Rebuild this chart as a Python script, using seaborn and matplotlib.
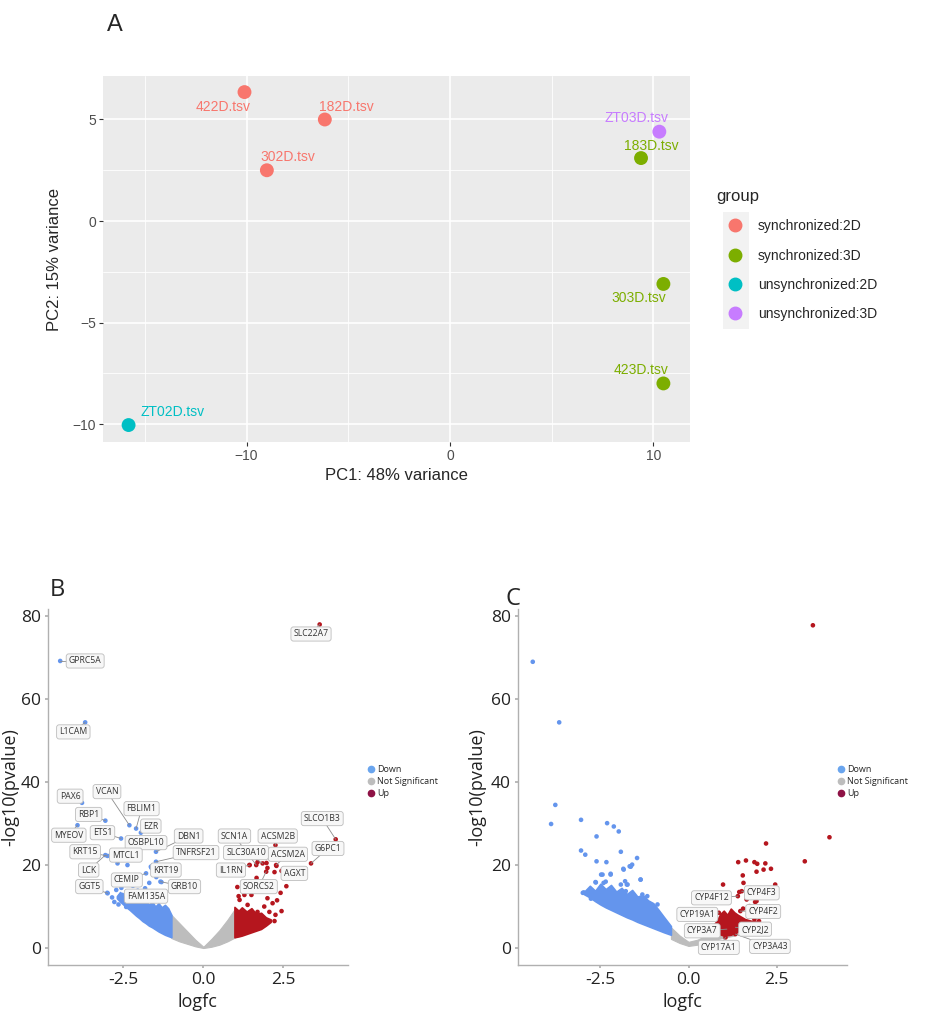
import matplotlib
matplotlib.use("Agg")
import matplotlib.pyplot as plt
import seaborn as sns
import pandas as pd
from matplotlib.lines import Line2D
from matplotlib.patches import Rectangle

# ---------------- panel A: PCA ----------------
pca_samples = ["422D.tsv", "182D.tsv", "302D.tsv", "ZT03D.tsv", "183D.tsv", "303D.tsv", "423D.tsv", "ZT02D.tsv"]
pca_pc1 = [-10.1, -6.15, -9.0, 10.3, 9.4, 10.5, 10.5, -15.8]
pca_pc2 = [6.35, 5.0, 2.5, 4.4, 3.1, -3.1, -8.0, -10.05]
pca_group = ["synchronized:2D", "synchronized:2D", "synchronized:2D", "unsynchronized:3D",
             "synchronized:3D", "synchronized:3D", "synchronized:3D", "unsynchronized:2D"]
group_order = ["synchronized:2D", "synchronized:3D", "unsynchronized:2D", "unsynchronized:3D"]
group_colors = ["#F8766D", "#7CAE00", "#00BFC4", "#C77CFF"]

# ---------------- panel B: volcano, labelled genes ----------------
b_genes = ["SLC22A7", "GPRC5A", "L1CAM", "PAX6", "VCAN", "FBLIM1", "RBP1", "EZR", "MYEOV", "ETS1",
           "DBN1", "OSBPL10", "KRT15", "MTCL1", "TNFRSF21", "LCK", "KRT19", "CEMIP", "GGT5", "GRB10",
           "FAM135A", "SCN1A", "ACSM2B", "SLC30A10", "ACSM2A", "G6PC1", "SLCO1B3", "IL1RN", "AGXT", "SORCS2"]
b_logfc = [3.63, -4.47, -3.69, -3.79, -2.31, -2.1, -3.06, -1.95, -3.93, -2.57,
           -1.48, -2.26, -2.99, -2.68, -1.48, -3.06, -1.64, -1.79, -2.99, -1.34,
           -1.82, 1.65, 2.25, 1.85, 2.27, 3.36, 4.13, 1.44, 2.48, 1.96]
b_pval = [78.0, 69.2, 54.4, 35.0, 29.6, 28.8, 30.7, 27.8, 29.6, 26.4,
          23.2, 22.8, 22.2, 20.4, 20.8, 22.4, 19.6, 18.0, 13.2, 16.0,
          14.4, 20.0, 24.8, 20.4, 20.0, 20.4, 26.2, 20.0, 18.8, 18.4]
b_status = ["Up"] + ["Down"] * 20 + ["Up"] * 9

# other significant genes in B
b_down_x = [-3.0, -2.78, -2.56, -2.53, -1.62, -1.47, -1.31, -1.69, -1.75, -1.9, -2.16, -2.41,
            -2.72, -2.37, -2.78, -1.6, -2.2, -2.45, -1.55, -2.05, -2.6, -1.4, -2.3, -2.65, -2.85]
b_down_y = [13.3, 11.1, 14.5, 12.8, 19.3, 17.1, 15.9, 15.7, 13.5, 12.0, 10.8, 9.9,
            14.0, 20.0, 16.0, 19.8, 15.0, 12.0, 13.0, 13.8, 12.5, 12.0, 17.5, 10.5, 12.2]
b_up_x = [1.44, 1.69, 1.97, 2.0, 2.28, 2.22, 2.44, 1.66, 1.06, 2.59, 2.41, 2.0, 1.5, 1.28,
          1.13, 2.16, 2.44, 1.69, 2.06, 2.25, 2.22, 1.38, 1.22, 1.9, 2.3, 1.1]
b_up_y = [20.0, 20.7, 20.5, 19.3, 19.8, 18.3, 18.6, 16.9, 14.7, 14.9, 13.3, 12.0, 12.8, 12.8,
          11.6, 10.8, 8.9, 8.7, 8.7, 8.0, 6.5, 10.4, 8.7, 10.0, 11.5, 12.5]

# dense clouds in B (logfc, lower and upper -log10 p envelope)
b_grey_x = [-1.0, -0.75, -0.5, -0.25, 0.0, 0.25, 0.5, 0.75, 1.0]
b_grey_lo = [2.4, 1.6, 1.0, 0.4, 0.0, 0.3, 0.8, 1.6, 2.6]
b_grey_hi = [8.0, 6.0, 4.0, 2.0, 0.3, 2.2, 4.3, 6.8, 9.6]
b_blue_x = [-2.7, -2.6, -2.5, -2.4, -2.3, -2.2, -2.1, -2.0, -1.9, -1.8, -1.7, -1.6, -1.5,
            -1.4, -1.3, -1.2, -1.1, -1.0]
b_blue_lo = [12.0, 11.2, 10.5, 9.8, 9.2, 8.5, 7.8, 7.2, 6.5, 6.0, 5.4, 5.0, 4.5, 4.0, 3.6, 3.2, 2.9, 2.6]
b_blue_hi = [12.5, 13.5, 12.2, 13.0, 11.8, 12.6, 11.0, 11.8, 10.6, 11.5, 10.4, 11.2, 10.0,
             10.8, 9.8, 10.4, 9.6, 8.0]
b_red_x = [0.97, 1.1, 1.2, 1.35, 1.5, 1.65, 1.8, 1.95, 2.1]
b_red_lo = [2.6, 2.8, 3.0, 3.4, 3.8, 4.2, 4.6, 5.4, 6.3]
b_red_hi = [9.9, 9.0, 9.8, 8.8, 9.6, 8.2, 8.5, 7.4, 6.9]

# ---------------- panel C: volcano ----------------
c_genes = ["CYP4F12", "CYP4F3", "CYP19A1", "CYP4F2", "CYP3A7", "CYP2J2", "CYP17A1", "CYP3A43"]
c_logfc = [1.4, 1.51, 0.86, 1.47, 1.09, 1.33, 1.05, 1.33]
c_pval = [12.5, 13.7, 8.5, 8.9, 4.55, 5.0, 2.55, 3.35]

c_down_x = [-4.42, -3.67, -3.78, -3.9, -3.05, -2.61, -3.05, -2.93, -2.61, -2.33, -2.31, -2.12,
            -1.98, -1.92, -2.48, -2.21, -1.85, -1.67, -1.6, -1.46, -1.36, -3.0, -2.77, -2.64,
            -2.41, -1.8, -1.75, -2.97, -2.63, -2.44, -2.21, -2.54, -2.35, -1.92, -1.73, -1.78,
            -1.36, -1.64, -1.84, -1.31, -1.17, -0.88]
c_down_y = [69.0, 54.4, 34.5, 29.9, 30.9, 26.9, 23.5, 22.5, 20.9, 20.7, 30.1, 29.3,
            28.1, 23.2, 17.7, 17.9, 19.1, 19.7, 20.1, 21.7, 16.5, 13.3, 11.9, 15.9,
            15.7, 16.1, 15.3, 13.4, 15.8, 17.7, 17.7, 13.4, 16.0, 15.3, 15.3, 13.7,
            16.5, 19.6, 18.9, 12.9, 12.5, 10.5]
c_up_x = [3.53, 4.0, 3.3, 2.2, 1.41, 1.63, 1.87, 1.95, 2.18, 1.93, 2.13, 2.34, 1.54, 1.56,
          0.98, 2.46, 1.44, 1.89, 1.65, 1.93, 1.73, 2.01, 1.87, 2.0, 1.78, 1.55]
c_up_y = [77.8, 26.7, 20.9, 25.2, 20.7, 21.1, 20.7, 20.3, 20.4, 18.4, 18.9, 19.1, 17.5, 15.7,
          15.3, 15.3, 13.5, 11.1, 11.7, 11.3, 10.1, 9.8, 6.9, 6.5, 8.0, 9.5]

c_grey_x = [-0.5, -0.25, 0.0, 0.25, 0.5, 1.0, 1.3]
c_grey_lo = [2.2, 1.2, 0.5, 0.8, 1.5, 2.5, 3.0]
c_grey_hi = [5.0, 3.0, 1.5, 2.0, 3.0, 3.8, 4.0]
c_blue_x = [-2.97, -2.8, -2.65, -2.5, -2.35, -2.2, -2.05, -1.9, -1.75, -1.6, -1.45, -1.3,
            -1.15, -1.0, -0.85, -0.7, -0.5]
c_blue_lo = [13.0, 12.2, 11.3, 10.5, 9.8, 9.2, 8.6, 8.0, 7.4, 6.9, 6.3, 5.8, 5.3, 4.8, 4.3, 3.8, 3.2]
c_blue_hi = [13.5, 15.0, 13.8, 15.5, 14.2, 15.2, 13.6, 14.5, 13.0, 14.0, 12.4, 12.8, 11.5,
             10.8, 9.2, 7.5, 5.3]
c_red_x = [0.65, 0.8, 0.9, 1.0, 1.1, 1.2, 1.3, 1.4, 1.6, 1.8, 2.0]
c_red_lo = [3.5, 3.5, 3.3, 3.0, 3.1, 3.2, 3.6, 4.0, 5.0, 5.3, 5.8]
c_red_hi = [5.0, 6.5, 8.2, 9.0, 8.0, 9.5, 8.6, 8.0, 7.0, 6.5, 6.3]

status_order = ["Down", "Not Significant", "Up"]
status_colors = {"Down": "#6495ED", "Not Significant": "#BDBDBD", "Up": "#B5161E"}
legend_colors = ["#6AA5EE", "#BDBDBD", "#8E1245"]

# label box positions (layout only)
b_text_xy = [(3.36, 75.7), (-3.69, 69.2), (-4.06, 52.1), (-4.16, 36.6), (-3.01, 37.7), (-1.93, 33.6),
             (-3.58, 32.2), (-1.64, 29.4), (-4.2, 27.2), (-3.15, 27.8), (-0.46, 27.0), (-1.79, 25.4),
             (-3.69, 23.2), (-2.42, 22.4), (-0.23, 23.0), (-3.58, 18.8), (-1.17, 18.8), (-2.39, 16.4),
             (-3.56, 14.8), (-0.59, 14.8), (-1.79, 12.5), (0.97, 27.0), (2.32, 27.0), (1.33, 23.0),
             (2.64, 22.6), (3.89, 24.0), (3.71, 31.2), (0.86, 18.8), (2.84, 18.0), (1.73, 14.8)]
c_text_xy = [(0.65, 12.1), (2.08, 13.3), (0.25, 8.1), (2.12, 8.8), (0.39, 4.15), (1.89, 4.55),
             (0.86, 0.16), (2.31, 0.4)]
pca_text_dxy = [(-1.05, -0.75), (1.08, 0.6), (1.04, 0.65), (-1.1, 0.67), (0.5, 0.6),
                (-1.2, -0.68), (-1.1, 0.66), (2.15, 0.63)]

sans_a = ["Liberation Sans", "DejaVu Sans"]
sans_v = ["Open Sans", "DejaVu Sans"]

sns.set_theme(style="white")
plt.rcParams["font.family"] = sans_a

fig = plt.figure(figsize=(9.36, 10.14), dpi=100)
ax_a = fig.add_axes([0.110, 0.564, 0.627, 0.361])
ax_b = fig.add_axes([0.0513, 0.0483, 0.320, 0.351])
ax_c = fig.add_axes([0.553, 0.0483, 0.352, 0.351])

# ---- A
pca = pd.DataFrame({"sample": pca_samples, "pc1": pca_pc1, "pc2": pca_pc2, "group": pca_group})
ax_a.set_facecolor("#EBEBEB")
sns.scatterplot(data=pca, x="pc1", y="pc2", hue="group", hue_order=group_order,
                palette=group_colors, s=100, edgecolor="none", ax=ax_a, zorder=3, legend=False)
color_of = dict(zip(group_order, group_colors))
for (_, row), (dx, dy) in zip(pca.iterrows(), pca_text_dxy):
    ax_a.text(row.pc1 + dx, row.pc2 + dy, row["sample"], color=color_of[row.group],
              fontsize=10, ha="center", va="center", zorder=4)
ax_a.set_xlim(-17.06, 11.8)
ax_a.set_ylim(-10.89, 7.14)
ax_a.set_xticks([-10, 0, 10])
ax_a.set_yticks([-10, -5, 0, 5])
ax_a.set_xticks([-15, -5, 5], minor=True)
ax_a.set_yticks([-7.5, -2.5, 2.5], minor=True)
ax_a.grid(which="major", color="white", lw=1.2)
ax_a.grid(which="minor", color="white", lw=0.6)
ax_a.set_axisbelow(True)
for sp in ax_a.spines.values():
    sp.set_visible(False)
ax_a.tick_params(which="major", length=3, width=0.8, color="#333333", labelcolor="#4D4D4D",
                 labelsize=10, pad=2, left=True, bottom=True)
ax_a.tick_params(which="minor", length=0)
ax_a.set_xlabel("PC1: 48% variance", fontsize=12)
ax_a.set_ylabel("PC2: 15% variance", fontsize=12)
ax_a.xaxis.set_label_coords(0.5, -0.072)
ax_a.yaxis.set_label_coords(-0.07, 0.5)

handles = [Line2D([], [], marker="o", ls="none", ms=9, color=c) for c in group_colors]
fig.patches.append(Rectangle((723 / 936, 1 - 329 / 1014), 26 / 936, 117 / 1014,
                             transform=fig.transFigure, fc="#F2F2F2", ec="none"))
leg = fig.legend(handles, group_order, title="group", loc="upper left",
                 bbox_to_anchor=(716 / 936, 1 - 189 / 1014), frameon=False, fontsize=10,
                 title_fontsize=12, labelspacing=1.1, handlelength=2.73, handletextpad=0.3,
                 borderpad=0, borderaxespad=0, alignment="left")

# ---- volcano helper
def volcano(ax, grey, blue, red, down, up, lab_genes, lab_x, lab_y, lab_status, lab_xy):
    ax.fill_between(grey[0], grey[1], grey[2], color=status_colors["Not Significant"], lw=0.8,
                    edgecolor=status_colors["Not Significant"], zorder=1)
    ax.fill_between(blue[0], blue[1], blue[2], color=status_colors["Down"], lw=1.2,
                    edgecolor=status_colors["Down"], zorder=2)
    ax.fill_between(red[0], red[1], red[2], color=status_colors["Up"], lw=1.2,
                    edgecolor=status_colors["Up"], zorder=2)
    pts = pd.DataFrame({
        "logfc": list(down[0]) + list(up[0]) + list(lab_x),
        "pval": list(down[1]) + list(up[1]) + list(lab_y),
        "status": ["Down"] * len(down[0]) + ["Up"] * len(up[0]) + list(lab_status),
    })
    sns.scatterplot(data=pts, x="logfc", y="pval", hue="status", palette=status_colors,
                    s=11, edgecolor="none", ax=ax, zorder=3, legend=False)
    for g, x, y, (tx, ty) in zip(lab_genes, lab_x, lab_y, lab_xy):
        ax.plot([x, tx], [y, ty], color="#8C8C8C", lw=0.6, zorder=4)
        ax.text(tx, ty, g, fontsize=6.2, family=sans_v, ha="center", va="center", color="#333333",
                zorder=5, bbox=dict(boxstyle="round,pad=0.3,rounding_size=0.3", fc="#F7F7F7",
                                    ec="#BDBDBD", lw=0.6))
    ax.set_xlim(-4.85, 4.5)
    ax.set_ylim(-4.1, 81.7)
    ax.set_xticks([-2.5, 0.0, 2.5])
    ax.set_xticklabels(["-2.5", "0.0", "2.5"])
    ax.set_yticks([0, 20, 40, 60, 80])
    for s in ["top", "right"]:
        ax.spines[s].set_visible(False)
    for s in ["left", "bottom"]:
        ax.spines[s].set_color("#B0B0B0")
        ax.spines[s].set_linewidth(1.0)
    ax.tick_params(length=2, color="#B0B0B0", labelsize=12.5, labelcolor="#222222", pad=3,
                   left=True, bottom=True)
    for t in ax.get_xticklabels() + ax.get_yticklabels():
        t.set_family(sans_v)
    ax.set_xlabel("logfc", fontsize=13, family=sans_v, color="#222222")
    ax.set_ylabel("-log10(pvalue)", fontsize=13, family=sans_v, color="#222222")
    ax.xaxis.set_label_coords(0.5, -0.078)
    ax.yaxis.set_label_coords(-0.095, 0.5)


volcano(ax_b, (b_grey_x, b_grey_lo, b_grey_hi), (b_blue_x, b_blue_lo, b_blue_hi),
        (b_red_x, b_red_lo, b_red_hi), (b_down_x, b_down_y), (b_up_x, b_up_y),
        b_genes, b_logfc, b_pval, b_status, b_text_xy)
volcano(ax_c, (c_grey_x, c_grey_lo, c_grey_hi), (c_blue_x, c_blue_lo, c_blue_hi),
        (c_red_x, c_red_lo, c_red_hi), (c_down_x, c_down_y), (c_up_x, c_up_y),
        c_genes, c_logfc, c_pval, ["Up"] * len(c_genes), c_text_xy)

vhandles = [Line2D([], [], marker="o", ls="none", ms=4.5, color=c) for c in legend_colors]
for x0 in [367 / 936, 837 / 936]:
    fig.legend(vhandles, status_order, loc="upper left", bbox_to_anchor=(x0, 1 - 765 / 1014),
               frameon=False, prop={"family": sans_v, "size": 6.5}, labelspacing=0.35,
               handlelength=0.8, handletextpad=0.3, borderpad=0, borderaxespad=0)

fig.text(115 / 936, 1 - 25 / 1014, "A", fontsize=17, ha="center", va="center")
fig.text(57 / 936, 1 - 590 / 1014, "B", fontsize=17, ha="center", va="center", family=sans_v)
fig.text(513 / 936, 1 - 599 / 1014, "C", fontsize=17, ha="center", va="center", family=sans_v)

fig.savefig("out.png", dpi=100)
